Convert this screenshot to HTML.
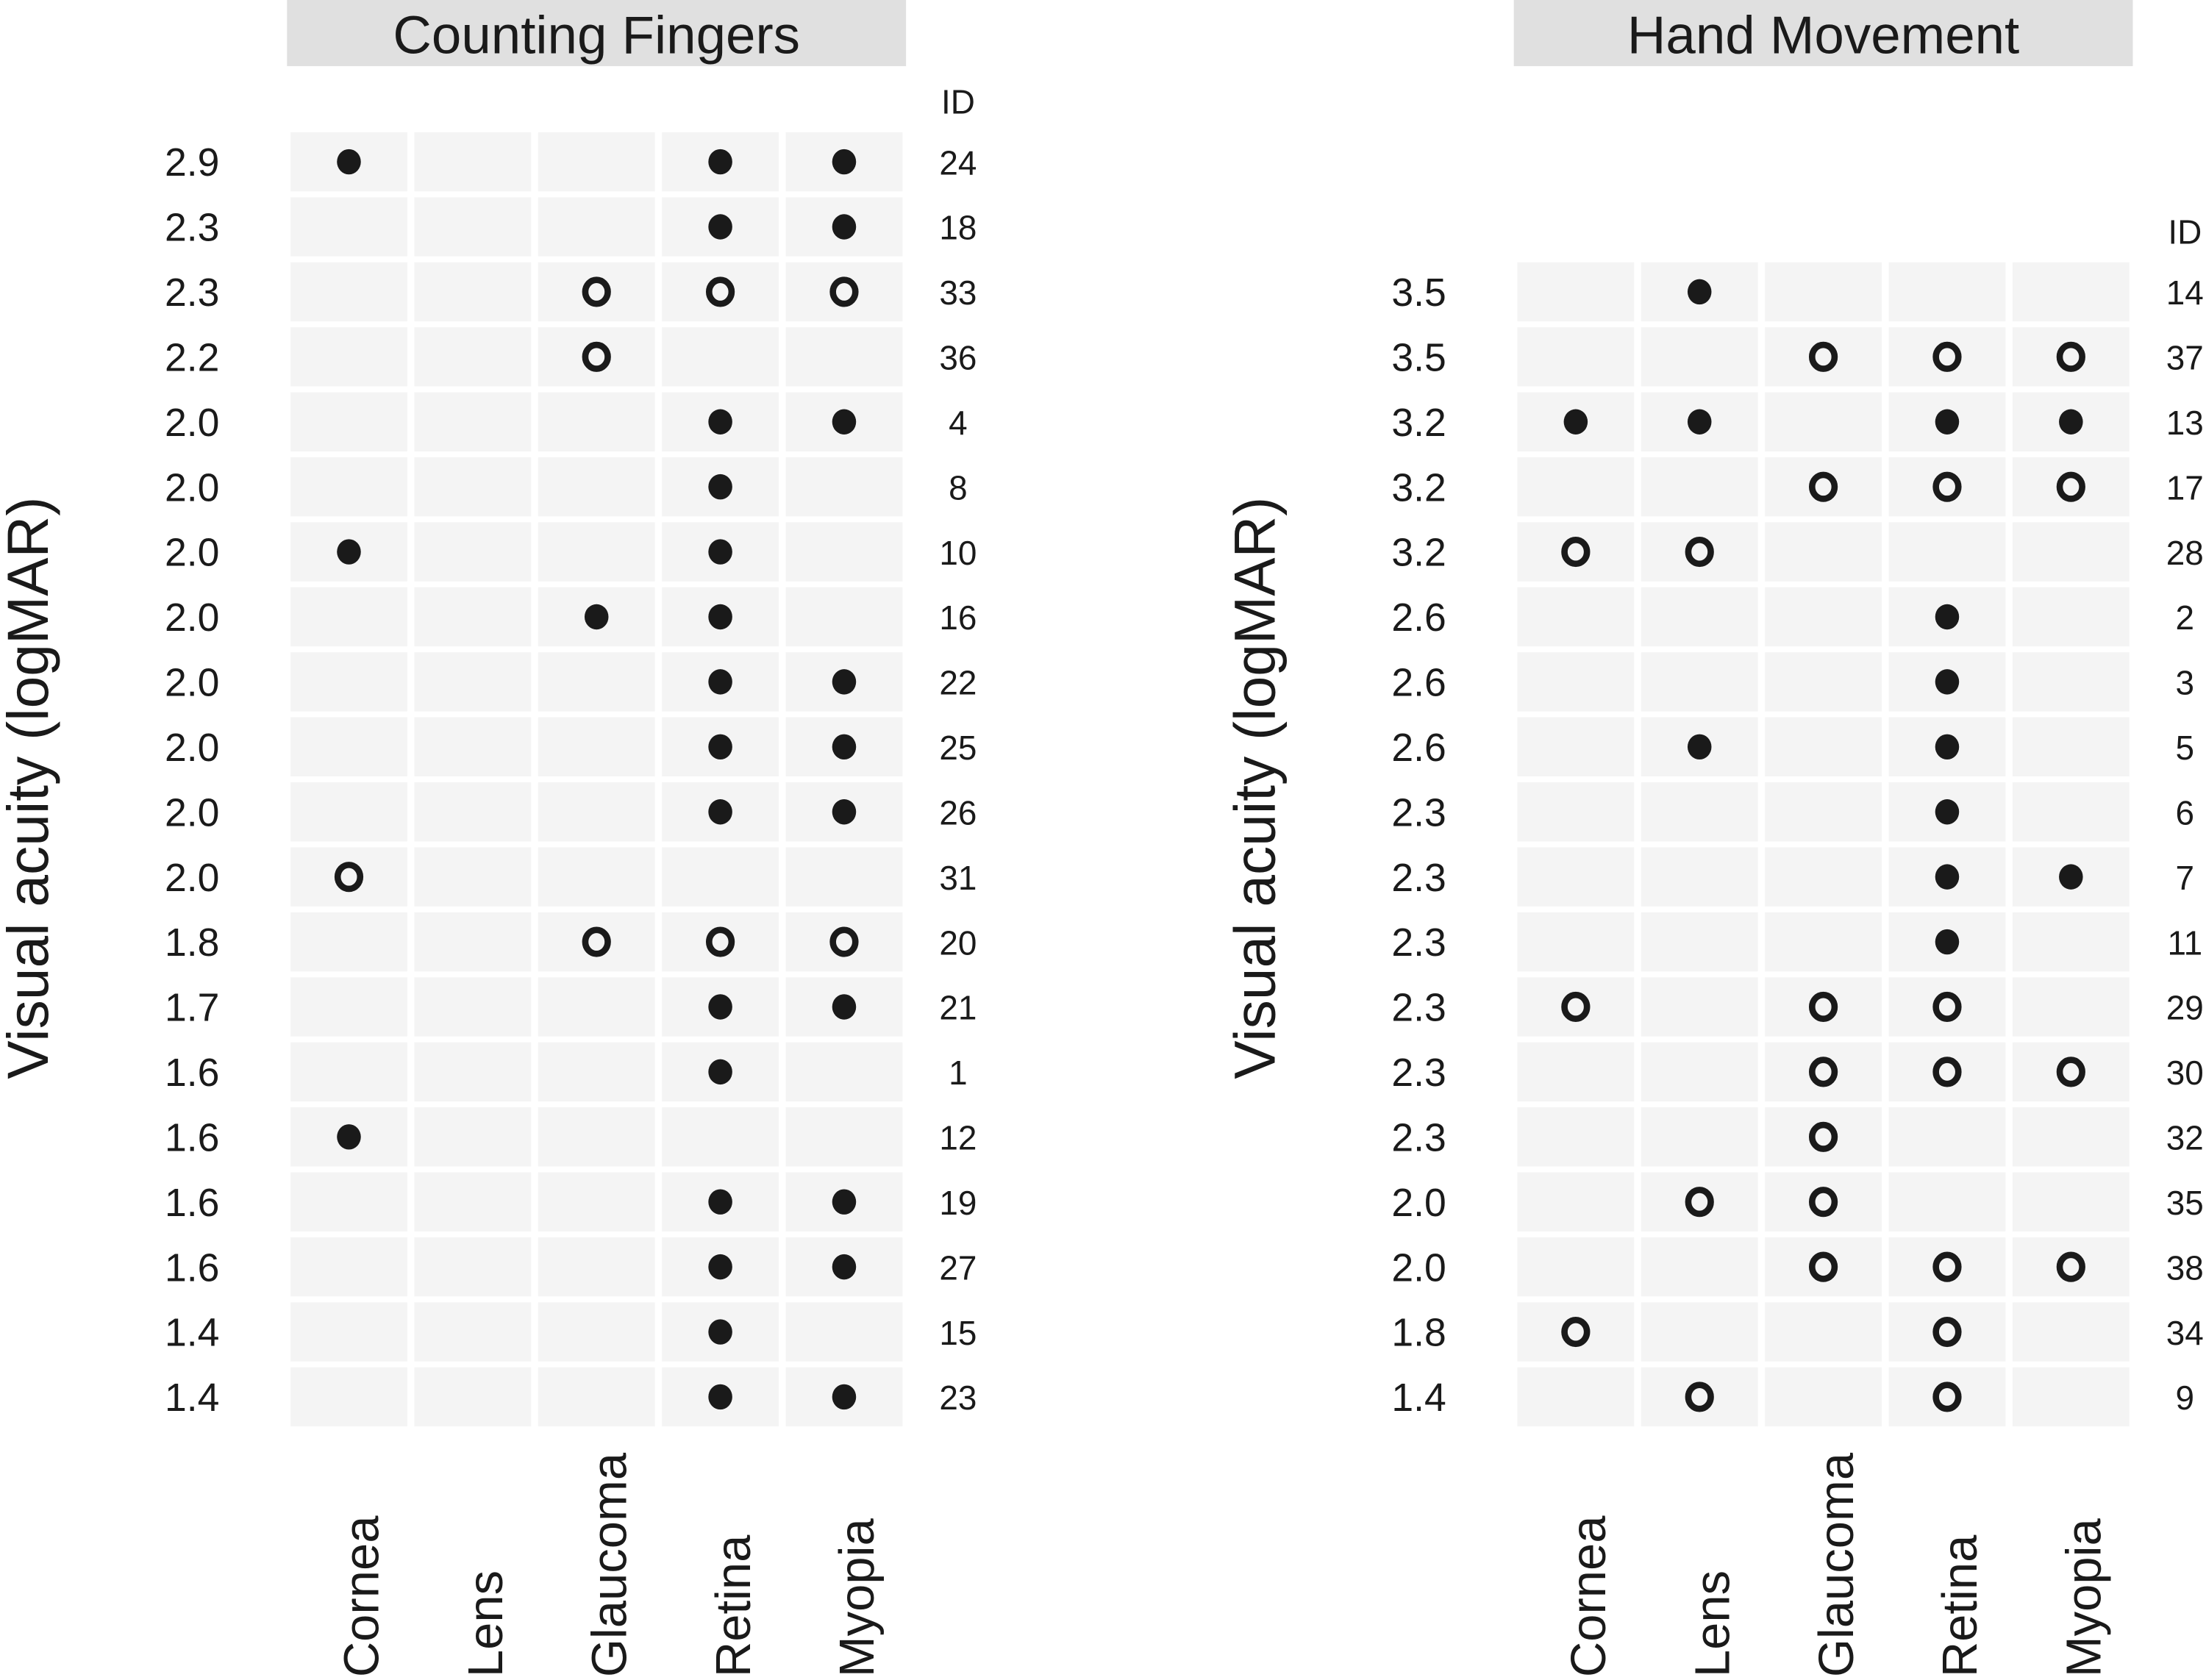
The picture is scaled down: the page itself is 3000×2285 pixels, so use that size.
<!DOCTYPE html>
<html><head><meta charset="utf-8"><style>
html,body{margin:0;padding:0;background:#fff}
svg{display:block}
text{font-family:"Liberation Sans",sans-serif;fill:#1a1a1a}
</style></head><body>
<svg id="chart" width="3000" height="2285" viewBox="0 0 1568 1194" preserveAspectRatio="none" xmlns="http://www.w3.org/2000/svg"></svg>
<script>
// Categories
const columns = ["Cornea","Lens","Glaucoma","Retina","Myopia"];
// Counting Fingers panel
const cfIds = [24,18,33,36,4,8,10,16,22,25,26,31,20,21,1,12,19,27,15,23];
const cfVA  = ["2.9","2.3","2.3","2.2","2.0","2.0","2.0","2.0","2.0","2.0","2.0","2.0","1.8","1.7","1.6","1.6","1.6","1.6","1.4","1.4"];
// status per column: f=filled, o=open, .=none (order Cornea,Lens,Glaucoma,Retina,Myopia)
const cfMarks = ["f..ff","...ff","..ooo","..o..","...ff","...f.","f..f.","..ff.","...ff","...ff","...ff","o....","..ooo","...ff","...f.","f....","...ff","...ff","...f.","...ff"];
// Hand Movement panel
const hmIds = [14,37,13,17,28,2,3,5,6,7,11,29,30,32,35,38,34,9];
const hmVA  = ["3.5","3.5","3.2","3.2","3.2","2.6","2.6","2.6","2.3","2.3","2.3","2.3","2.3","2.3","2.0","2.0","1.8","1.4"];
const hmMarks = [".f...","..ooo","ff.ff","..ooo","oo...","...f.","...f.",".f.f.","...f.","...ff","...f.","o.oo.","..ooo","..o..",".oo..","..ooo","o..o.",".o.o."];

const NS="http://www.w3.org/2000/svg";
const svg=document.getElementById('chart');
function el(tag,attrs,parent){const e=document.createElementNS(NS,tag);for(const k in attrs)e.setAttribute(k,attrs[k]);(parent||svg).appendChild(e);return e;}

const step=46.2, colStep=88, tileW=83, tileH=42;
function yPos(i,offset){return 115+(i+offset)*step;}

function panel(name,title,x0,ids,va,marks,offset,stripX){
  const g=el('g',{});
  
  
  const xPos=c=>x0+c*colStep;
  const strip=el('rect',{x:stripX,y:0,width:440,height:47,fill:'#e0e0e0'},g);
  
  
  const st=el('text',{x:stripX+220,y:38,'text-anchor':'middle','font-size':38},g);
  st.textContent=title;
  
  
  // ID header
  const idh=el('text',{x:xPos(4)+81,y:yPos(-1,offset)+12,'text-anchor':'middle','font-size':24},g);
  idh.textContent='ID';
  
  
  for(let r=0;r<ids.length;r++){
    const cy=yPos(r,offset);
    for(let c=0;c<columns.length;c++){
      const t=el('rect',{x:xPos(c)-tileW/2,y:cy-tileH/2,width:tileW,height:tileH,fill:'#f4f4f4'},g);
      
      
      const m=marks[r][c];
      if(m==='f'){
        const p=el('ellipse',{cx:xPos(c),cy:cy,rx:8.5,ry:9,fill:'#1a1a1a'},g);
        
        
      } else if(m==='o'){
        const p=el('ellipse',{cx:xPos(c),cy:cy,rx:8,ry:8.5,fill:'none',stroke:'#1a1a1a','stroke-width':4.5},g);
        
        
      }
    }
    const yl=el('text',{x:x0-92,y:cy+10,'text-anchor':'end','font-size':28},g);
    yl.textContent=va[r];
    
    
    const il=el('text',{x:xPos(4)+81,y:cy+9,'text-anchor':'middle','font-size':24},g);
    il.textContent=ids[r];
    
    
  }
  for(let c=0;c<columns.length;c++){
    const x=xPos(c)+21, y=1192;
    const xl=el('text',{x:x,y:y,'font-size':35,transform:`rotate(-90 ${x} ${y})`},g);
    xl.textContent=columns[c];
    
    
  }
  const ax=x0-214, ay=560;
  const at=el('text',{x:ax,y:ay,'text-anchor':'middle','font-size':41,transform:`rotate(-90 ${ax} ${ay})`},g);
  at.textContent='Visual acuity (logMAR)';
  
  
}
panel('counting-fingers','Counting Fingers',248,cfIds,cfVA,cfMarks,0,204);
panel('hand-movement','Hand Movement',1120,hmIds,hmVA,hmMarks,2,1076);
</script>
</body></html>
